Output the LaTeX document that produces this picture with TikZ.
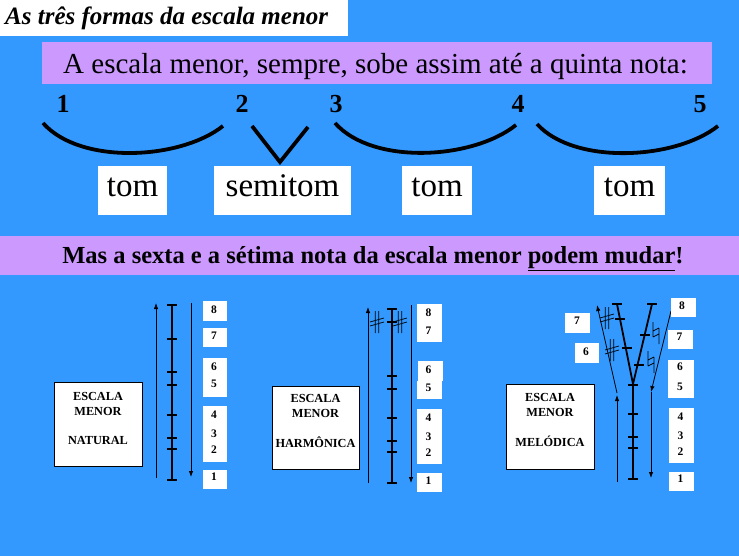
\documentclass[tikz,border=0pt]{standalone}
\usepackage{fontspec}
\setmainfont{Liberation Serif}
\usetikzlibrary{arrows.meta}
\definecolor{skyblue}{HTML}{3399FF}
\definecolor{lilac}{HTML}{CC99FF}
\tikzset{
  tonebox/.style={fill=white, inner sep=0pt, text height=19pt, text depth=6pt, font=\fontsize{33}{33}\selectfont},
  degree/.style={font=\fontsize{26}{26}\selectfont\bfseries, anchor=base, inner sep=0pt},
  tonearc/.style={line width=3.8pt},
  namebox/.style={draw=black, line width=0.8pt, fill=white, inner sep=0pt},
  nametext/.style={font=\fontsize{12.3}{15}\selectfont\bfseries, align=center, anchor=north, inner sep=0pt},
  digit/.style={font=\fontsize{11.5}{12}\selectfont\bfseries, inner sep=0pt},
  axis/.style={line width=1.8pt},
  runarrow/.style={line width=0.8pt, ->},
  sharpsign/.pic={\draw[line width=0.7pt] (-1.8,-11) -- (-1.8,11) (1.8,-11) -- (1.8,11) (-7,0) -- (7,-4) (-7,4) -- (7,0);},
  naturalsign/.pic={\draw[line width=0.7pt] (-3,-11) -- (-3,4) (3,-5) -- (3,11) (-3,-2) -- (3,-5) (-3,4) -- (3,1);}
}
\begin{document}
\begin{tikzpicture}[x=1pt,y=-1pt,>={Latex[length=6pt,width=4.5pt]}]
		\useasboundingbox (0,0) rectangle (739,556);
		\fill[skyblue] (0,0) rectangle (739,556);
		% title and first statement
		\fill[white] (0,0) rectangle (348,36);
		\node[anchor=base west, inner sep=0pt, font=\fontsize{25}{26}\selectfont\bfseries\itshape] (title) at (5,25) {As três formas da escala menor};
		\fill[lilac] (41.5,42) rectangle (712,84);
		\node[anchor=base, inner sep=0pt, font=\fontsize{29}{30}\selectfont] (intro) at (375.5,74) {A escala menor, sempre, sobe assim até a quinta nota:};
		% degrees 1 to 5
		\node[degree] (n1) at (63,113) {1};
		\node[degree] (n2) at (242,113) {2};
		\node[degree] (n3) at (336,113) {3};
		\node[degree] (n4) at (518,113) {4};
		\node[degree] (n5) at (700,113) {5};
		\draw[tonearc] (43,123) .. controls (80,165) and (180,160) .. (223,126);
		\draw[tonearc] (252,126) -- (280,162) -- (308,127);
		\draw[tonearc] (335,123) .. controls (372,165) and (472,160) .. (516,125);
		\draw[tonearc] (537,124) .. controls (574,165) and (675,160) .. (718,126);
		\node[tonebox, minimum width=69pt, minimum height=49pt] (tom1) at (132.5,190.5) {tom};
		\node[tonebox, minimum width=137pt, minimum height=49pt] (semi) at (282.5,190.5) {semitom};
		\node[tonebox, minimum width=70pt, minimum height=49pt] (tom2) at (437,190.5) {tom};
		\node[tonebox, minimum width=71pt, minimum height=49pt] (tom3) at (629.5,190.5) {tom};
		% second statement
		\fill[lilac] (0,236) rectangle (739,275);
		\node[anchor=base, inner sep=0pt, font=\fontsize{24.5}{25}\selectfont\bfseries] (change) at (373,264) {Mas a sexta e a sétima nota da escala menor \underline{podem mudar}!};
		% natural minor
		\node[namebox, minimum width=88pt, minimum height=84pt] (natbox) at (98,424) {};
		\node[nametext] (nattext) at (98,391.7) {ESCALA\\MENOR\\[14.5pt]NATURAL};
		\draw[axis] (172,305) -- (172,480);
		\foreach \y in {305,339,372,385,415,438,449,480}
			\draw[axis] (167,\y) -- (177,\y);
		\draw[runarrow] (156,478) -- (156,303);
		\draw[runarrow] (191,303) -- (191,477);
		\fill[white] (203,301) rectangle (227,321);
		\fill[white] (203,328) rectangle (227,347);
		\fill[white] (203,358) rectangle (227,397);
		\fill[white] (203,406) rectangle (227,462);
		\fill[white] (203,470) rectangle (227,489);
		\foreach \d/\y in {8/309.5,7/336,6/366.7,5/383.8,4/414.5,3/434,2/450,1/477}
			\node[digit] (nat\d) at (214,\y) {\d};
		% harmonic minor
		\node[namebox, minimum width=87pt, minimum height=83pt] (harbox) at (315.5,427.5) {};
		\node[nametext] (hartext) at (315.5,394.4) {ESCALA\\MENOR\\[14.5pt]HARMÔNICA};
		\draw[axis] (392,309) -- (392,483);
		\foreach \y in {309,322,376,389,418,441,452,483}
			\draw[axis] (387,\y) -- (397,\y);
		\draw[runarrow] (368,483) -- (368,307);
		\draw[runarrow] (411,305) -- (411,483);
		\pic at (377,322) {sharpsign};
		\pic at (400,322) {sharpsign};
		\fill[white] (417,304) rectangle (442,342);
		\fill[white] (418,361) rectangle (443,381);
		\fill[white] (417,381) rectangle (442,399);
		\fill[white] (417,409) rectangle (442,464);
		\fill[white] (417,473) rectangle (442,492);
		\foreach \d/\y in {8/312.8,7/330.5,6/369.7,5/387.5,4/418,3/437,2/453,1/480.5}
			\node[digit] (har\d) at (428.5,\y) {\d};
		% melodic minor
		\node[namebox, minimum width=88pt, minimum height=85pt] (melbox) at (550,426.5) {};
		\node[nametext] (meltext) at (550,393.4) {ESCALA\\MENOR\\[14.5pt]MELÓDICA};
		\draw[axis] (617,304) -- (633,384) -- (652,304);
		\draw[axis] (633,384) -- (633,479);
		\draw[axis] (612,304) -- (622,304);
		\draw[axis] (647,304) -- (657,304);
		\foreach \x/\y in {620/319,627/348,645/335,639/365,633/385,633/414,633/437,633/448,633/479}
			\draw[axis] (\x-5,\y) -- (\x+5,\y);
		\draw[runarrow] (617,482) -- (617,395);
		\draw[runarrow] (617,393) -- (597,305);
		\draw[runarrow] (671,311) -- (651,392);
		\draw[runarrow] (651,392) -- (651,478);
		\pic at (607,318) {sharpsign};
		\pic at (612,350) {sharpsign};
		\pic at (656,333) {naturalsign};
		\pic at (651,362) {naturalsign};
		\fill[white] (671,298) rectangle (696,317);
		\fill[white] (668,330) rectangle (693,349);
		\fill[white] (668,360) rectangle (694,398);
		\fill[white] (669,408) rectangle (694,463);
		\fill[white] (669,472) rectangle (694,491);
		\fill[white] (565,313) rectangle (590,333);
		\fill[white] (575,343) rectangle (599,363);
		\foreach \d/\x/\y in {8/682/305.5,7/679.5/337.2,6/680/367.2,5/680/386.3,4/680.5/416.3,3/680.5/435.5,2/680.5/452,1/680.5/479}
			\node[digit] (mel\d) at (\x,\y) {\d};
		\node[digit] (mel7b) at (577,320.5) {7};
		\node[digit] (mel6b) at (586,352) {6};
		
		\end{tikzpicture}
\end{document}
